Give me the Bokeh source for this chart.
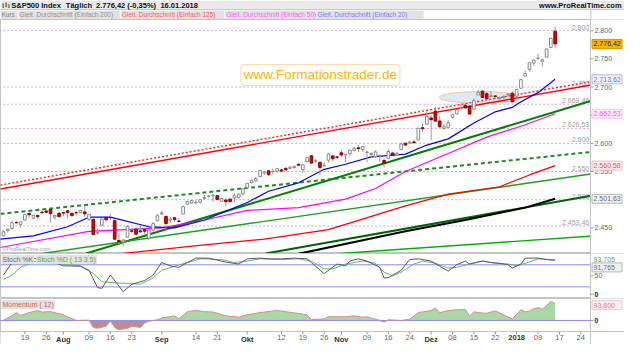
import numpy as np
import pandas as pd
from bokeh.plotting import figure
from bokeh.models import Range1d, Label
from bokeh.layouts import column
from bokeh.embed import file_html
from bokeh.resources import INLINE
from bokeh.core.properties import value

FONT = value("Liberation Sans")

# ---------------- data ----------------
holidays = ["2017-09-04", "2017-11-23", "2017-12-25", "2018-01-01", "2018-01-15"]
days = [d for d in pd.bdate_range("2017-07-12", "2018-01-26") if d.strftime("%Y-%m-%d") not in holidays]
pos = {d.strftime("%Y-%m-%d"): i for i, d in enumerate(days)}

opens = [2435.75, 2444.99, 2449.16, 2459.50, 2455.88, 2463.85, 2475.56, 2467.40, 2472.04, 2477.88, 2479.97, 2482.76, 2469.12, 2475.94,
         2477.10, 2480.38, 2476.03, 2476.88, 2477.14, 2478.35, 2465.35, 2465.38, 2441.04, 2454.96, 2468.66, 2468.63, 2462.95, 2427.64, 2425.50, 2433.75, 2444.88, 2447.91, 2444.72, 2447.35, 2431.94, 2446.06, 2462.65,
         2474.42, 2470.35, 2463.83, 2468.06, 2462.25, 2474.52, 2491.94, 2493.89, 2494.56, 2495.67, 2502.51, 2506.29, 2506.84, 2507.16, 2497.26, 2499.39, 2501.04, 2503.30, 2503.41, 2510.42,
         2521.20, 2530.34, 2533.48, 2540.86, 2547.44, 2551.39, 2549.99, 2550.62, 2552.88, 2555.66, 2555.57, 2557.17, 2562.87, 2553.39, 2567.56, 2578.08, 2568.66, 2566.52, 2560.08, 2570.26, 2577.75, 2575.99,
         2583.21, 2579.46, 2581.93, 2587.47, 2592.11, 2588.71, 2584.00, 2580.18, 2576.53, 2577.75, 2569.45, 2572.95, 2582.94, 2579.49, 2589.17, 2600.31, 2600.42, 2602.66, 2605.94, 2627.82, 2633.93,
         2645.10, 2657.19, 2639.78, 2626.24, 2628.38, 2646.21, 2652.19, 2661.73, 2667.59, 2665.87, 2660.63, 2685.92, 2692.71, 2688.18, 2683.02, 2684.22, 2679.09, 2682.10, 2686.10, 2689.15,
         2683.73, 2697.85, 2719.31, 2731.33, 2742.67, 2751.15, 2745.55, 2752.97, 2770.18, 2798.96]
highs = [2445.76, 2449.32, 2463.54, 2462.82, 2460.92, 2473.83, 2477.62, 2472.54, 2473.10, 2481.24, 2481.69, 2484.04, 2473.53, 2477.96,
         2478.51, 2480.38, 2476.03, 2480.00, 2480.95, 2490.87, 2474.41, 2465.38, 2448.09, 2466.36, 2468.90, 2474.93, 2465.02, 2440.27, 2430.58, 2454.77, 2448.91, 2450.39, 2453.96, 2449.12, 2449.19, 2460.31, 2475.01,
         2480.38, 2471.97, 2469.64, 2468.62, 2467.11, 2488.95, 2496.77, 2498.37, 2498.43, 2500.23, 2508.32, 2507.84, 2508.85, 2507.16, 2503.47, 2502.54, 2503.51, 2511.75, 2510.81, 2519.44,
         2529.23, 2535.13, 2540.53, 2552.51, 2549.41, 2551.82, 2555.23, 2555.24, 2555.33, 2557.65, 2559.47, 2559.71, 2564.11, 2562.36, 2575.44, 2578.29, 2572.18, 2567.40, 2567.07, 2582.98, 2580.03, 2578.29,
         2588.40, 2581.11, 2588.42, 2593.38, 2597.02, 2595.47, 2586.50, 2583.81, 2587.66, 2579.66, 2572.84, 2590.09, 2583.96, 2584.64, 2601.19, 2600.94, 2604.21, 2606.41, 2627.69, 2634.89, 2657.74,
         2650.62, 2665.19, 2648.72, 2634.41, 2640.99, 2651.65, 2660.33, 2669.72, 2671.88, 2668.09, 2679.63, 2694.97, 2694.44, 2691.01, 2692.64, 2685.35, 2682.74, 2685.64, 2687.66, 2692.12,
         2695.89, 2714.37, 2729.29, 2743.45, 2748.51, 2759.14, 2750.80, 2767.56, 2787.85, 2807.54]
lows = [2435.75, 2441.69, 2446.69, 2457.16, 2450.34, 2463.85, 2468.43, 2465.06, 2466.32, 2474.91, 2474.94, 2459.93, 2464.66, 2468.53,
        2471.14, 2466.48, 2468.85, 2472.08, 2475.88, 2470.32, 2462.08, 2437.75, 2437.85, 2454.96, 2461.61, 2463.86, 2430.01, 2420.69, 2417.35, 2433.67, 2441.42, 2436.19, 2442.22, 2439.03, 2428.20, 2443.77, 2462.65,
        2473.85, 2446.55, 2459.20, 2460.29, 2459.40, 2474.52, 2490.37, 2492.14, 2491.35, 2493.16, 2499.92, 2503.19, 2496.67, 2499.00, 2496.54, 2488.03, 2495.12, 2495.91, 2502.93, 2507.99,
        2520.40, 2528.85, 2531.80, 2540.02, 2543.79, 2541.60, 2544.86, 2547.95, 2548.31, 2552.09, 2553.83, 2554.69, 2559.67, 2547.92, 2567.56, 2564.33, 2565.58, 2544.00, 2559.80, 2565.94, 2568.25, 2572.15,
        2574.92, 2566.17, 2576.77, 2585.66, 2584.35, 2585.02, 2566.33, 2575.57, 2574.48, 2566.56, 2557.45, 2572.95, 2577.62, 2578.24, 2589.17, 2595.23, 2600.42, 2598.87, 2605.44, 2620.32, 2633.93,
        2605.52, 2639.03, 2627.73, 2624.75, 2628.38, 2644.10, 2651.47, 2659.78, 2662.85, 2652.01, 2659.14, 2685.92, 2680.74, 2676.11, 2682.40, 2678.13, 2677.96, 2678.91, 2682.69, 2673.61,
        2682.36, 2697.77, 2719.07, 2727.92, 2737.60, 2747.86, 2736.06, 2752.78, 2769.64, 2768.64]
closes = [2443.25, 2447.83, 2459.27, 2459.14, 2460.61, 2473.83, 2473.45, 2472.54, 2469.91, 2477.13, 2477.83, 2475.42, 2472.10, 2470.30,
          2476.35, 2477.57, 2472.16, 2476.83, 2480.91, 2474.92, 2474.02, 2438.21, 2441.32, 2465.84, 2464.61, 2468.11, 2430.01, 2425.55, 2428.37, 2452.51, 2444.04, 2438.97, 2443.05, 2444.24, 2446.30, 2457.59, 2471.65,
          2476.55, 2457.85, 2465.54, 2465.10, 2461.43, 2488.11, 2496.48, 2498.37, 2495.62, 2500.23, 2503.87, 2506.65, 2508.24, 2500.60, 2502.22, 2496.66, 2496.84, 2507.04, 2510.06, 2519.36,
          2529.12, 2534.58, 2537.74, 2552.07, 2549.33, 2544.73, 2550.64, 2555.24, 2550.93, 2553.17, 2557.64, 2559.36, 2561.26, 2562.10, 2575.21, 2564.98, 2569.13, 2557.15, 2560.40, 2581.07, 2572.83, 2575.26,
          2579.36, 2579.85, 2587.84, 2591.13, 2590.64, 2594.38, 2584.62, 2582.30, 2584.84, 2578.87, 2564.62, 2585.64, 2578.85, 2582.14, 2599.03, 2597.08, 2602.42, 2601.42, 2627.04, 2626.07, 2647.58,
          2642.22, 2639.44, 2629.57, 2629.27, 2636.98, 2651.50, 2659.99, 2664.11, 2662.85, 2652.01, 2675.81, 2690.16, 2681.47, 2679.25, 2684.57, 2683.34, 2680.50, 2682.62, 2687.54, 2673.61,
          2695.81, 2713.06, 2723.99, 2743.15, 2747.71, 2751.29, 2748.23, 2767.56, 2786.24, 2776.42]

# moving averages (bar index, value)
ma20_x = [-1, 7, 15, 20, 25, 34, 40, 47, 57, 62, 69, 75, 80, 86, 94, 99, 104, 110, 115, 119, 121, 125, 129]
ma20 = [2430, 2436, 2452, 2469, 2469, 2452, 2450, 2464, 2495, 2515, 2530, 2554, 2563, 2576, 2581, 2597, 2608, 2636, 2656, 2664, 2674, 2690, 2713.62]
ma50_x = [-1, 20, 37, 47, 57, 69, 80, 87, 94, 104, 113, 122, 129]
ma50 = [2415, 2444, 2450, 2464, 2481, 2486, 2501, 2520, 2550, 2582, 2611, 2633, 2652.53]
ma125_x = [27, 47, 61, 76, 94, 104, 116, 123, 129]
ma125 = [2404, 2420, 2430, 2447, 2489, 2510, 2523, 2544, 2560.58]
ma200_x = [69, 94, 108, 122, 129]
ma200 = [2404, 2444, 2464, 2486, 2501.63]

# trend lines (start bar, start price, end bar, end price)
trend_x0 = [-0.7, -0.7, -0.7, 19.3, 9.1, 61.3, 78.7]
trend_y0 = [2519.0, 2526.0, 2475.0, 2404.6, 2404.6, 2404.6, 2404.6]
trend_x1 = [137.7, 137.7, 137.7, 137.7, 137.7, 137.7, 137.7]
trend_y1 = [2704.0, 2710.0, 2585.0, 2676.0, 2546.0, 2507.5, 2435.6]
trend_color = ["#ff0000", "#ff2020", "#1e8c1e", "#008000", "#1ea01e", "#006400", "#00b000"]
trend_dash = ["solid", "2 2", "4 3", "solid", "solid", "solid", "solid"]
trend_width = [1.4, 1.4, 2.0, 2.0, 1.4, 2.0, 1.4]

# horizontal support/resistance levels
levels = [2800, 2700, 2669.46, 2626.53, 2600, 2550, 2500, 2453.46]
level_labels = ["2.800", "2.700", "2.669,46", "2.626,53", "2.600", "2.550", "2.500", "2.453,46"]

price_ticks = [2450, 2500, 2550, 2600, 2650, 2700, 2750, 2800]
price_tick_labels = ["2.450", "2.500", "2.550", "2.600", "2.650", "2.700", "2.750", "2.800"]

# last values shown in boxes on the price scale
box_vals = [2776.42, 2713.62, 2652.53, 2560.58, 2501.63]
box_text = ["2.776,42", "2.713,62", "2.652,53", "2.560,58", "2.501,63"]

# stochastic
stoch_k_x = [0, 2, 4, 7, 12, 14, 18, 20, 22, 23, 25, 28, 30, 33, 35, 37, 39, 41, 43, 45, 48, 52, 55, 57, 60, 62, 65, 68, 71, 72,
             75, 78, 80, 81, 83, 85, 88, 89, 90, 93, 95, 97, 100, 102, 104, 106, 108, 109, 112, 114, 116, 118, 119, 121, 122, 125, 127, 129]
stoch_k = [52, 86, 98, 98, 86, 77, 76, 65, 18, 16, 52, 7, 27, 37, 52, 86, 77, 73, 86, 98, 98, 87, 82, 96, 98, 96, 96, 98, 96, 86,
           56, 82, 77, 90, 96, 90, 73, 44, 45, 65, 94, 96, 90, 76, 63, 80, 90, 82, 90, 86, 84, 80, 71, 82, 98, 98, 94, 91.765]
stoch_d_x = [0, 2, 4, 8, 12, 18, 21, 23, 26, 30, 32, 35, 37, 40, 43, 46, 51, 54, 57, 60, 65, 69, 72, 75, 77, 80, 84, 87, 89, 91,
             93, 96, 98, 101, 104, 106, 109, 112, 115, 118, 120, 122, 125, 129]
stoch_d = [40, 52, 73, 92, 84, 77, 56, 34, 31, 29, 27, 44, 65, 76, 86, 96, 94, 86, 90, 96, 94, 96, 90, 69, 69, 82, 90, 84, 60, 50,
           60, 82, 90, 84, 71, 73, 82, 90, 84, 82, 77, 84, 96, 93.705]
stoch_levels = [80, 20]
stoch_ticks = [0, 50]

# momentum (12)
mom_x = [0, 2, 3, 4, 6, 8, 9, 11, 14, 15, 17, 20, 21, 22, 24, 25, 26, 27, 29, 30, 32, 33, 34, 36, 37, 40, 41, 43, 45, 47,
         49, 52, 55, 57, 60, 64, 66, 69, 71, 72, 75, 76, 80, 82, 84, 85, 88, 89, 90, 93, 95, 97, 100, 101, 102, 104, 106, 108, 109, 110,
         111, 113, 115, 117, 119, 120, 121, 122, 123, 124, 125, 126, 127, 128, 129]
mom = [2, 26, 44, 28, 44, 56, 47, 49, 32, 21, 0, 2, -39, -44, -32, -3, -39, -52, -44, -32, -39, -14, -4, 4, 14, 26, 9, 49, 56, 49,
       47, 26, 18, 32, 44, 56, 49, 39, 32, 5, 9, 21, 21, 26, 18, 21, 0, -9, 4, 0, 7, 44, 56, 70, 44, 55, 60, 61, 25, 49,
       44, 40, 54, 31, 9, 33, 61, 48, 53, 66, 72, 64, 84, 106, 93.8]

axis_dates = ["2017-07-19", "2017-07-26", "2017-08-01", "2017-08-09", "2017-08-16", "2017-08-23", "2017-09-01", "2017-09-14",
              "2017-09-21", "2017-10-02", "2017-10-12", "2017-10-19", "2017-10-26", "2017-11-01", "2017-11-09", "2017-11-16",
              "2017-11-24", "2017-12-01", "2017-12-08", "2017-12-15", "2017-12-22", "2018-01-02", "2018-01-09", "2018-01-17", "2018-01-24"]
axis_labels = ["19", "26", "Aug", "09", "16", "23", "Sep", "14", "21", "Okt", "12", "19", "26", "Nov", "09", "16", "24",
               "Dez", "08", "15", "22", "2018", "09", "17", "24"]
month_names = {"Aug", "Sep", "Okt", "Nov", "Dez", "2018"}

# ---------------- layout constants ----------------
W = 624
XE = 137.27                # right edge of the chart area (bar units)
XR = Range1d(-0.7, 145.22)  # extra room on the right holds the price scale
PXB = W / (XR.end - XR.start)  # pixels per bar
BORDER = "#c4c4c4"
FS = "7px"


def panel(height, y0, y1):
    f = figure(width=W, height=height, x_range=XR, y_range=Range1d(y0, y1), output_backend="svg",
               toolbar_location=None, x_axis_location=None, y_axis_location=None, min_border=0)
    f.grid.visible = False
    f.outline_line_color = BORDER
    f.background_fill_color = "white"
    f.border_fill_color = "white"
    return f


def scale_strip(f, y0, y1):
    f.quad(left=[XE], right=[XR.end + 1], bottom=[y0 - 1000], top=[y1 + 1000], fill_color="white", line_color=None)
    f.segment(x0=[XE], y0=[y0 - 1000], x1=[XE], y1=[y1 + 1000], line_color=BORDER, line_width=1)


def ticks(f, vals, labels, color="#666666", style="normal"):
    f.segment(x0=[XE] * len(vals), y0=vals, x1=[XE + 3 / PXB] * len(vals), y1=vals, line_color="#999999")
    f.text(x=[XE] * len(vals), y=vals, text=labels, x_offset=4, text_baseline="middle",
           text_font=FONT, text_font_size=FS, text_color=color, text_font_style=style)


def boxes(f, vals, texts, tcols, fills, lines, upp, down=None):
    # down: how many pixels each box is pushed below its value
    down = down or [0] * len(vals)
    bw = 30
    xs = [XE + (1.5 + bw / 2) / PXB] * len(vals)
    ys = [v - d * upp for v, d in zip(vals, down)]
    f.rect(x=xs, y=ys, width=[bw] * len(vals), height=[9] * len(vals), width_units="screen", height_units="screen",
           fill_color=fills, line_color=lines, line_width=1)
    f.text(x=[XE] * len(vals), y=ys, text=texts, x_offset=3, text_baseline="middle",
           text_font=FONT, text_font_size=FS, text_color=tcols)


# ---------------- header ----------------
hdr = figure(width=W, height=19, x_range=Range1d(0, 640), y_range=Range1d(20, 0), output_backend="svg",
             toolbar_location=None, x_axis_location=None, y_axis_location=None, min_border=0)
hdr.grid.visible = False
hdr.outline_line_color = None
hdr.quad(left=[0], right=[640], top=[0], bottom=[9.5], fill_color="#e9e9e9", line_color=None)
hdr.segment(x0=[0], y0=[9.5], x1=[640], y1=[9.5], line_color="#cccccc", line_width=1)
hdr.quad(left=[2, 5, 8], right=[3.5, 6.5, 9.5], top=[3, 2, 4], bottom=[8, 7, 8],
         fill_color=["#30a030", "#e03030", "#30a030"], line_color=None)
hdr.text(x=[11, 67, 98, 164], y=[5, 5, 5, 5],
         text=["S&P500 Index", "Täglich", "2.776,42 (-0,35%)", "16.01.2018"],
         text_font=FONT, text_font_style="bold", text_font_size="7.5px", text_baseline="middle", text_color="#111111")
hdr.text(x=[637], y=[5], text=["www.ProRealTime.com"], text_font=FONT, text_font_style="bold",
         text_font_size="7.5px", text_baseline="middle", text_align="right", text_color="#111111")
leg_x0 = [0, 18.5, 123.5, 230.5, 324]
leg_x1 = [17.5, 122.5, 229.5, 323, 434]
leg_text = ["Kurs", "Gleit. Durchschnitt (Einfach 200)", "Gleit. Durchschnitt (Einfach 125)",
            "Gleit. Durchschnitt (Einfach 50)", "Gleit. Durchschnitt (Einfach 20)"]
leg_col = ["#808080", "#909090", "#ff5a5a", "#ff5aff", "#7a7aff"]
hdr.quad(left=leg_x0, right=leg_x1, top=[10.5] * 5, bottom=[19.5] * 5, fill_color="#e2e2e2", line_color=None)
hdr.text(x=[v + 1.0 for v in leg_x0], y=[15.2] * 5, text=leg_text, text_color=leg_col, text_font=FONT,
         text_font_size="6.5px", text_baseline="middle")
hdr.segment(x0=[605.5], y0=[10], x1=[605.5], y1=[20], line_color=BORDER)

# ---------------- main price panel ----------------
P0, P1 = 2404.6, 2819.8
p = panel(234, P0, P1)
for lv in levels:
    p.segment(x0=[-1], y0=[lv], x1=[XE], y1=[lv], line_color="#c8a8e8", line_dash="2 2", line_width=1)
p.text(x=[XE - 0.3] * len(levels), y=levels, text=level_labels, text_align="right", text_baseline="bottom",
       y_offset=-1, text_font=FONT, text_font_size=FS, text_color="#a0a0a0")

p.ellipse(x=[111.5], y=[2681.7], width=[19.2], height=[20.3], fill_color="#dde8fa", line_color="#f3c88e", line_width=1)

for i in range(len(trend_x0)):
    p.line([trend_x0[i], trend_x1[i]], [trend_y0[i], trend_y1[i]], line_color=trend_color[i],
           line_dash=trend_dash[i], line_width=trend_width[i])

p.line(ma125_x, ma125, line_color="#ff0000", line_width=1.2)
p.line(ma200_x, ma200, line_color="#000000", line_width=2.0)
p.line(ma50_x, ma50, line_color="#ff00ff", line_width=1.2)
p.line(ma20_x, ma20, line_color="#0000ff", line_width=1.2)

idx = np.arange(len(closes))
o = np.array(opens); c = np.array(closes); h = np.array(highs); lo = np.array(lows)
up = c >= o
p.segment(x0=idx, y0=lo, x1=idx, y1=h, line_color="#9a9a9a", line_width=1)
p.vbar(x=idx[up], width=0.62, top=c[up], bottom=o[up], fill_color="white", line_color="#8a8a8a", line_width=1)
p.vbar(x=idx[~up], width=0.62, top=o[~up], bottom=c[~up], fill_color="#e00000", line_color="#900000", line_width=1)

p.add_layout(Label(x=74.1, y=2721.5, text="www.Formationstrader.de", text_align="center", text_baseline="middle",
                   text_font="Liberation Sans", text_font_size="13.5px", text_color="#ffb400",
                   background_fill_color="white", border_line_color="#ffd8a6", padding=3, border_radius=3))
p.text(x=[XR.start], y=[P0], x_offset=2, y_offset=-5, text=["©ProRealTime.com"], text_baseline="middle",
       text_font=FONT, text_font_size="5.5px", text_color="#a0a0a0")

scale_strip(p, P0, P1)
ticks(p, price_ticks, price_tick_labels)
upp_main = (P1 - P0) / 234
boxes(p, box_vals, box_text,
      ["#222222", "#6b6bff", "#ff4cff", "#ff4a4a", "#707070"],
      ["#f7b500", "#f4f4ff", "#fff0ff", "#fff0f0", "#f0f0f0"],
      ["#d89a00", "#b8b8d8", "#ffb8ff", "#ffb8b8", "#b8b8b8"], upp_main)

# ---------------- stochastic panel ----------------
S0, S1 = -11.5, 110.5
s = panel(45, S0, S1)
s.segment(x0=[-1] * 2, y0=stoch_levels, x1=[XE] * 2, y1=stoch_levels, line_color="#8c8cff", line_width=1)
s.line(stoch_d_x, stoch_d, line_color="#66bb66", line_width=1)
s.line(stoch_k_x, stoch_k, line_color="#5a5a5a", line_width=1)
s.add_layout(Label(x=-0.7, y=S1, x_offset=1, y_offset=-6, text="Stoch %K", text_baseline="middle",
                   text_font="Liberation Sans", text_font_size=FS, text_color="#707070",
                   background_fill_color="#e2e2e2", padding=1))
s.add_layout(Label(x=7.3, y=S1, x_offset=1, y_offset=-6, text="Stoch %D ( 13 3 5)", text_baseline="middle",
                   text_font="Liberation Sans", text_font_size=FS, text_color="#55aa55",
                   background_fill_color="#e2e2e2", padding=1))
scale_strip(s, S0, S1)
ticks(s, [stoch_ticks[1]], ["50"])
ticks(s, [stoch_ticks[0]], ["0"], color="#222222", style="bold")
upp_s = (S1 - S0) / 45
s.text(x=[XE], y=[stoch_d[-1]], x_offset=3, y_offset=0, text=["93,705"], text_baseline="middle",
       text_font=FONT, text_font_size=FS, text_color="#55aa55")
boxes(s, [stoch_k[-1]], ["91,765"], ["#707070"], ["#f0f0f0"], ["#b8b8b8"], upp_s, down=[7])

# ---------------- momentum panel + date strip ----------------
M0, M1 = -61.6, 122.6
upp_m = (M1 - M0) / 33
MB = M0 - 13 * upp_m
m = panel(46, MB, M1)
mv = np.array(mom, dtype=float)
m.varea(x=mom_x, y1=0, y2=np.maximum(mv, 0), fill_color="#9fd49a", fill_alpha=0.9)
m.varea(x=mom_x, y1=np.minimum(mv, 0), y2=0, fill_color="#b88080", fill_alpha=0.9)
m.segment(x0=[-1], y0=[0], x1=[XE], y1=[0], line_color="#8c8cff", line_width=1)
m.line(mom_x, mom, line_color="#e08a8a", line_width=1)
m.add_layout(Label(x=-0.7, y=M1, x_offset=1, y_offset=-6, text="Momentum ( 12)", text_baseline="middle",
                   text_font="Liberation Sans", text_font_size=FS, text_color="#e06060",
                   background_fill_color="#e2e2e2", padding=1))
scale_strip(m, M0, M1)
ticks(m, [0], ["0"], color="#222222", style="bold")
boxes(m, [mom[-1]], ["93,800"], ["#ff6a6a"], ["#fff4f4"], ["#ffc0c0"], upp_m, down=[1.5])

# date strip below the momentum panel
m.quad(left=[XR.start - 1], right=[XR.end + 1], bottom=[MB - 10], top=[M0], fill_color="white", line_color=None)
m.segment(x0=[XR.start - 1], y0=[M0], x1=[XR.end + 1], y1=[M0], line_color=BORDER, line_width=1)
m.segment(x0=[XE], y0=[MB - 10], x1=[XE], y1=[M0], line_color=BORDER, line_width=1)
tick_pos = [pos[d] for d in axis_dates]
m.segment(x0=tick_pos, y0=[M0] * len(tick_pos), x1=tick_pos, y1=[M0 - 3 * upp_m] * len(tick_pos), line_color="#999999")
day_pos = [tp for tp, lb in zip(tick_pos, axis_labels) if lb not in month_names]
day_lab = [lb for lb in axis_labels if lb not in month_names]
mon_pos = [tp for tp, lb in zip(tick_pos, axis_labels) if lb in month_names]
mon_lab = [lb for lb in axis_labels if lb in month_names]
m.text(x=day_pos, y=[M0] * len(day_pos), y_offset=3, text=day_lab, text_align="center", text_baseline="top",
       text_font=FONT, text_font_size="7.5px", text_color="#666666")
m.text(x=mon_pos, y=[M0] * len(mon_pos), y_offset=3, text=mon_lab, text_align="center", text_baseline="top",
       text_font=FONT, text_font_size="7.5px", text_color="#333333", text_font_style="bold")

layout = column(hdr, p, s, m, spacing=0)
open("out.html", "w").write(file_html(layout, INLINE))
